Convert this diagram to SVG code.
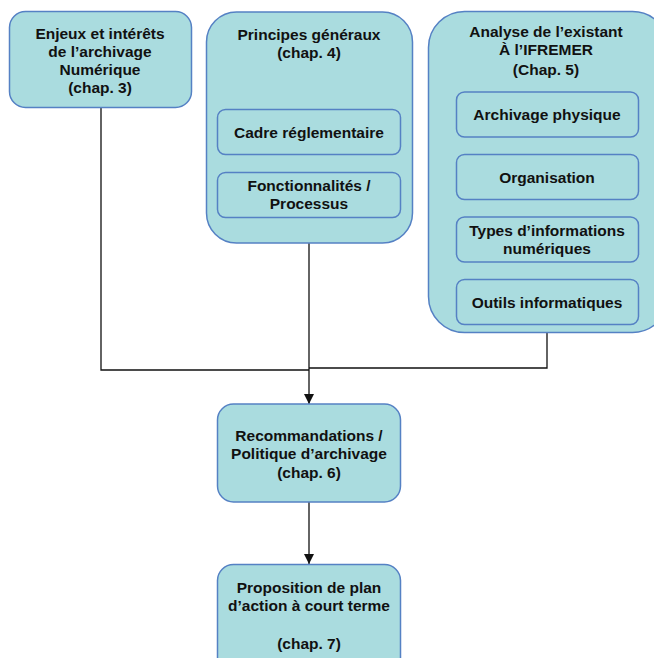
<svg xmlns="http://www.w3.org/2000/svg" width="654" height="658" viewBox="0 0 654 658">
<defs>
<style>
.box{fill:#aadcdf;stroke:#5581c4;stroke-width:1.5}
.t{font-family:"Liberation Sans",Arial,sans-serif;font-weight:bold;font-size:15.5px;fill:#111;text-anchor:middle}
.c{fill:none;stroke:#111;stroke-width:1.3}
</style>
<marker id="arr" viewBox="0 0 10 10" refX="10" refY="5" markerWidth="10" markerHeight="10" markerUnits="userSpaceOnUse" orient="auto"><path d="M0,0 L10,5 L0,10 Z" fill="#111"/></marker>
</defs>
<rect width="654" height="658" fill="#fff"/>
<g id="connectors">
<polyline class="c" points="101,108 101,370 309,370"/>
<polyline class="c" points="547,332 547,368 309,368"/>
<line class="c" x1="309" y1="243" x2="309" y2="404" marker-end="url(#arr)"/>
<line class="c" x1="309" y1="502" x2="309" y2="564" marker-end="url(#arr)"/>
</g>
<g id="enjeux">
<rect class="box" x="9.5" y="11.5" width="182" height="96" rx="16"/>
<text class="t" x="100" y="39">Enjeux et intérêts</text>
<text class="t" x="100" y="57">de l’archivage</text>
<text class="t" x="100" y="75">Numérique</text>
<text class="t" x="100" y="93">(chap. 3)</text>
</g>
<g id="principes">
<rect class="box" x="206.5" y="12" width="206" height="231" rx="30"/>
<text class="t" x="309" y="40">Principes généraux</text>
<text class="t" x="309" y="58">(chap. 4)</text>
</g>
<g id="cadre">
<rect class="box" x="217.5" y="109.5" width="183" height="45" rx="8"/>
<text class="t" x="309" y="138">Cadre réglementaire</text>
</g>
<g id="fonctionnalites">
<rect class="box" x="217.5" y="172.5" width="183" height="45" rx="8"/>
<text class="t" x="309" y="191">Fonctionnalités /</text>
<text class="t" x="309" y="209">Processus</text>
</g>
<g id="analyse">
<rect class="box" x="428.5" y="11.5" width="240" height="321" rx="36"/>
<text class="t" x="546" y="37">Analyse de l’existant</text>
<text class="t" x="546" y="55">À l’IFREMER</text>
<text class="t" x="546" y="75">(Chap. 5)</text>
</g>
<g id="archivage">
<rect class="box" x="456.5" y="92" width="182" height="45" rx="8"/>
<text class="t" x="547" y="120">Archivage physique</text>
</g>
<g id="organisation">
<rect class="box" x="456.5" y="154.5" width="182" height="45" rx="8"/>
<text class="t" x="547" y="183">Organisation</text>
</g>
<g id="types">
<rect class="box" x="456.5" y="217" width="182" height="45" rx="8"/>
<text class="t" x="547" y="236">Types d’informations</text>
<text class="t" x="547" y="254">numériques</text>
</g>
<g id="outils">
<rect class="box" x="456.5" y="279.5" width="182" height="45" rx="8"/>
<text class="t" x="547" y="308">Outils informatiques</text>
</g>
<g id="recommandations">
<rect class="box" x="217.5" y="404" width="183" height="98" rx="16"/>
<text class="t" x="309" y="441">Recommandations /</text>
<text class="t" x="309" y="459">Politique d’archivage</text>
<text class="t" x="309" y="478">(chap. 6)</text>
</g>
<g id="proposition">
<rect class="box" x="217.5" y="564.5" width="183" height="110" rx="16"/>
<text class="t" x="309" y="593">Proposition de plan</text>
<text class="t" x="309" y="611">d’action à court terme</text>
<text class="t" x="309" y="649">(chap. 7)</text>
</g>
</svg>
